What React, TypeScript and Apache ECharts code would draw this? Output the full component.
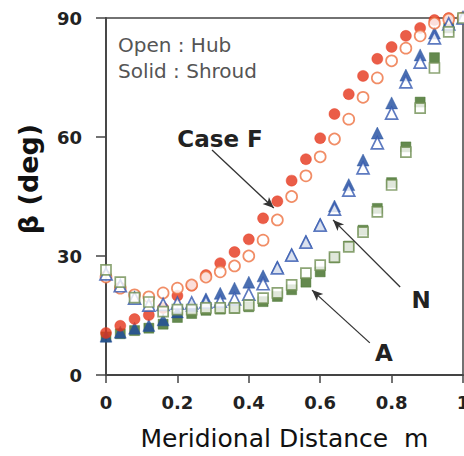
import React, { useEffect, useRef } from "react";
import * as echarts from "echarts";

const mValues = [0, 0.04, 0.08, 0.12, 0.16, 0.2, 0.24, 0.28, 0.32, 0.36, 0.4, 0.44, 0.48, 0.52, 0.56, 0.6, 0.64, 0.68, 0.72, 0.76, 0.8, 0.84, 0.88, 0.92, 0.96, 1];

const hubF = [24.7, 21.9, 20.2, 19.7, 20.7, 21.9, 22.7, 24.7, 26.0, 27.5, 30.0, 34.0, 39.1, 45.0, 50.2, 55.0, 59.5, 64.5, 70.0, 74.9, 79.2, 82.4, 85.5, 88.7, 89.7, 90.0];
const shroudF = [10.6, 12.4, 14.1, 15.1, 16.9, 20.0, 22.5, 25.2, 28.2, 31.0, 34.2, 39.5, 43.8, 49.0, 54.4, 59.7, 65.8, 70.8, 75.4, 79.7, 82.7, 85.5, 87.5, 89.5, 90.0, 90.0];
const hubN = [25.5, 22.5, 19.4, 17.6, 17.8, 18.1, 18.2, 18.4, 18.6, 19.2, 20.4, 23.0, 27.0, 30.2, 33.5, 37.8, 41.8, 46.6, 52.2, 58.5, 66.0, 73.9, 78.9, 85.0, 88.5, 90.0];
const shroudN = [9.8, 10.8, 11.8, 12.5, 13.9, 15.9, 17.5, 19.2, 20.6, 21.9, 23.4, 25.0, 27.2, 30.4, 33.7, 38.0, 42.6, 48.0, 54.2, 61.0, 68.6, 75.6, 80.7, 86.2, 89.0, 90.0];
const hubA = [26.5, 23.4, 19.5, 18.4, 16.0, 16.5, 16.5, 16.9, 16.9, 16.9, 17.6, 19.4, 20.7, 22.7, 25.7, 27.7, 29.7, 32.3, 36.0, 41.1, 47.9, 56.2, 67.3, 77.4, 86.5, 90.0];
const shroudA = [9.6, 10.4, 11.2, 11.8, 12.8, 14.5, 15.5, 16.3, 16.6, 16.8, 17.2, 18.5, 19.8, 21.5, 23.4, 26.0, 29.5, 32.5, 36.5, 42.0, 48.5, 57.5, 68.8, 80.0, 87.5, 90.0];

// annotation arrows in data units: [start, end]
const arrowF = [[0.297, 56.7], [0.47, 42.1]];
const arrowN = [[0.824, 22.2], [0.636, 39.1]];
const arrowA = [[0.739, 8.1], [0.577, 21.4]];

const legendLines = ["Open : Hub", "Solid : Shroud"];
const caseLabels = ["Case F", "N", "A"];

const pairs = (ys: number[]) => mValues.map((m, i) => [m, ys[i]]);

export default function App() {
  const ref = useRef<HTMLDivElement>(null);
  useEffect(() => {
    if (!ref.current) return;
    const chart = echarts.init(ref.current, null, { renderer: "svg" });
    const font = "DejaVu Sans";
    const arrowLine = (a: number[][]) => [{ coord: a[0] }, { coord: a[1] }];
    const openStyle = (c: string) => ({ color: "#ffffff", borderColor: c, borderWidth: 1.7 });
    const solidStyle = (c: string) => ({ color: c, borderColor: c, borderWidth: 0.5 });
    chart.setOption({
      animation: false,
      backgroundColor: "#ffffff",
      grid: {
        left: 106, right: 1, top: 18, bottom: 81,
        containLabel: false, outerBoundsMode: "none",
        show: true, borderColor: "#444", borderWidth: 1.5, backgroundColor: "transparent",
      },
      xAxis: {
        type: "value",
        min: 0,
        max: 1,
        interval: 0.2,
        name: "Meridional Distance  m",
        nameLocation: "middle",
        nameGap: 50,
        nameTextStyle: { fontFamily: font, fontSize: 25, lineHeight: 27, color: "#111" },
        axisLine: { show: true, onZero: false, lineStyle: { color: "#444", width: 1.8 } },
        axisTick: { show: true, length: 8, lineStyle: { color: "#444", width: 1.5 } },
        axisLabel: { margin: 18, fontFamily: font, fontWeight: "bold", fontSize: 18, color: "#222", hideOverlap: false, showMaxLabel: true },
        splitLine: { show: false },
      },
      yAxis: {
        type: "value",
        min: 0,
        max: 90,
        interval: 30,
        axisLine: { show: true, onZero: false, lineStyle: { color: "#444", width: 1.8 } },
        axisTick: { show: true, length: 10, lineStyle: { color: "#444", width: 1.5 } },
        axisLabel: { margin: 24, fontFamily: font, fontWeight: "bold", fontSize: 18, color: "#222" },
        splitLine: { show: false },
      },
      graphic: [
        { type: "text", x: 28, y: 179, rotation: Math.PI / 2, style: { text: "β (deg)", fontFamily: font, fontWeight: "bold", fontSize: 27, fill: "#111", align: "center", verticalAlign: "middle" } },
        { type: "text", x: 118, y: 45, style: { text: legendLines[0], fontFamily: font, fontSize: 20, fill: "#555", align: "left", verticalAlign: "middle" } },
        { type: "text", x: 118, y: 71, style: { text: legendLines[1], fontFamily: font, fontSize: 20, fill: "#555", align: "left", verticalAlign: "middle" } },
        { type: "text", x: 220, y: 139, style: { text: caseLabels[0], fontFamily: font, fontWeight: "bold", fontSize: 23, fill: "#222", align: "center", verticalAlign: "middle" } },
        { type: "text", x: 421, y: 300, style: { text: caseLabels[1], fontFamily: font, fontWeight: "bold", fontSize: 23, fill: "#222", align: "center", verticalAlign: "middle" } },
        { type: "text", x: 384, y: 353, style: { text: caseLabels[2], fontFamily: font, fontWeight: "bold", fontSize: 23, fill: "#222", align: "center", verticalAlign: "middle" } },
      ],
      series: [
        { name: "A shroud", type: "scatter", clip: false, symbol: "rect", symbolSize: 10, itemStyle: solidStyle("#3d6b22"), data: pairs(shroudA), z: 2 },
        { name: "N shroud", type: "scatter", clip: false, symbol: "triangle", symbolSize: 12, itemStyle: solidStyle("#1e4b9e"), data: pairs(shroudN), z: 2 },
        { name: "F shroud", type: "scatter", clip: false, symbol: "circle", symbolSize: 11, itemStyle: solidStyle("#e5351a"), data: pairs(shroudF), z: 2 },
        { name: "F hub", type: "scatter", clip: false, symbol: "circle", symbolSize: 11, itemStyle: openStyle("#ee7040"), data: pairs(hubF), z: 3 },
        { name: "N hub", type: "scatter", clip: false, symbol: "triangle", symbolSize: 12, itemStyle: openStyle("#3559b0"), data: pairs(hubN), z: 3 },
        {
          name: "A hub", type: "scatter", clip: false, symbol: "rect", symbolSize: 10, itemStyle: openStyle("#6f8f52"), data: pairs(hubA), z: 3,
          markLine: {
            silent: true,
            symbol: ["none", "arrow"],
            symbolSize: [7, 11],
            label: { show: false },
            lineStyle: { color: "#333", width: 1.3, type: "solid" },
            data: [arrowLine(arrowF), arrowLine(arrowN), arrowLine(arrowA)],
          },
        },
      ],
    });
    return () => chart.dispose();
  }, []);
  return <div ref={ref} style={{ position: "fixed", left: 0, top: 0, width: 464, height: 456 }} />;
}
